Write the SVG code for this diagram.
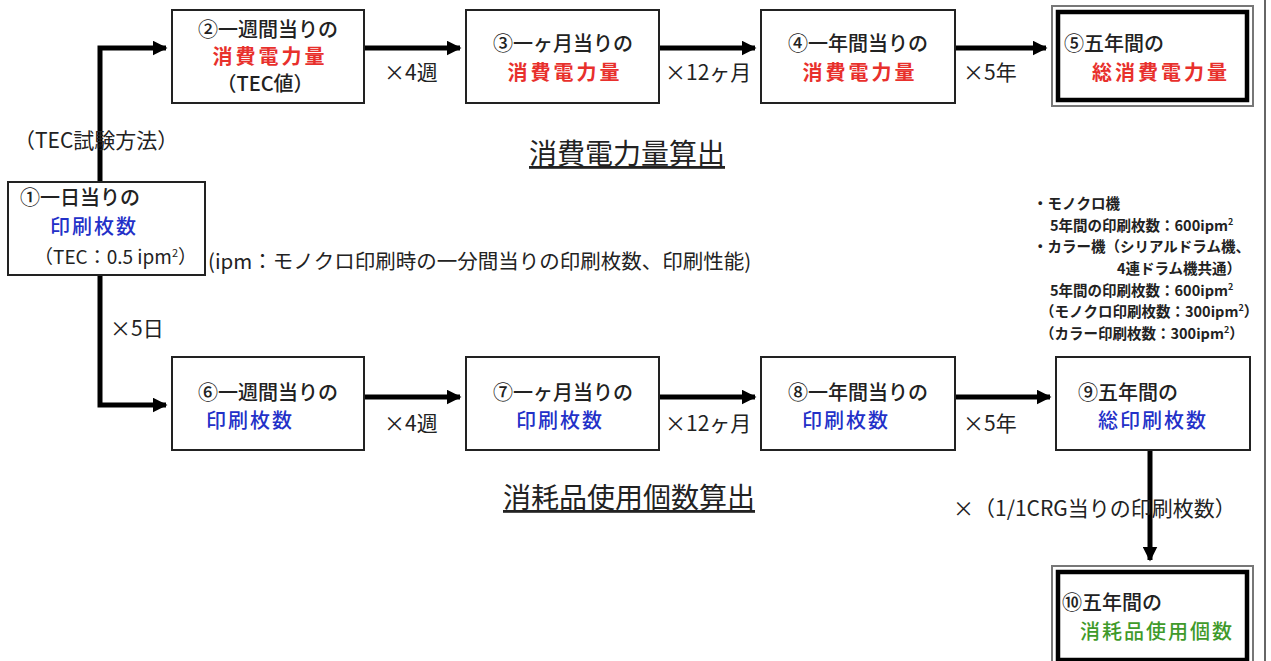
<svg xmlns="http://www.w3.org/2000/svg" width="1271" height="661" viewBox="0 0 1271 661">
<defs>
<marker id="ah" viewBox="0 0 10 10" refX="9" refY="5" markerWidth="3" markerHeight="3" orient="auto" markerUnits="strokeWidth">
<path d="M0,0 L10,5 L0,10 z" fill="#000"/>
</marker>
<style>
text{font-family:"Noto Sans CJK JP","Noto Sans",sans-serif;fill:#222}
.t{font-size:20px;font-weight:500}
.red{fill:#e8302c;font-weight:700;letter-spacing:3px}
.blue{fill:#2330c8;font-weight:500;letter-spacing:2px}
.green{fill:#3f9a2a;font-weight:500;letter-spacing:2px}
.box{fill:#fff;stroke:#222;stroke-width:2}
.outer{fill:#fff;stroke:#777;stroke-width:2}
.inner{fill:none;stroke:#000;stroke-width:4.5}
.lbl{font-size:21px}
.note{font-size:14.5px;font-weight:700}
.conn{fill:none;stroke:#000;stroke-width:5}
.sup{font-size:9px}
</style>
</defs>
<rect width="1271" height="661" fill="#fff"/>
<line x1="1265" y1="0" x2="1265" y2="661" stroke="#666" stroke-width="2"/>

<g id="connectors">
<path class="conn" d="M100,182 V48 H166" marker-end="url(#ah)"/>
<path class="conn" d="M100,275 V405 H166" marker-end="url(#ah)"/>
<path class="conn" d="M364,48 H460" marker-end="url(#ah)"/>
<path class="conn" d="M659,48 H755" marker-end="url(#ah)"/>
<path class="conn" d="M955,48 H1046" marker-end="url(#ah)"/>
<path class="conn" d="M364,397 H460" marker-end="url(#ah)"/>
<path class="conn" d="M659,397 H755" marker-end="url(#ah)"/>
<path class="conn" d="M955,397 H1050" marker-end="url(#ah)"/>
<path class="conn" d="M1150,450 V560" marker-end="url(#ah)"/>
</g>

<g id="labels">
<text class="lbl" x="14" y="148">（TEC試験方法）</text>
<text class="lbl" x="384" y="80">×4週</text>
<text class="lbl" x="665" y="80">×12ヶ月</text>
<text class="lbl" x="963" y="80">×5年</text>
<text class="lbl" x="384" y="431">×4週</text>
<text class="lbl" x="665" y="431">×12ヶ月</text>
<text class="lbl" x="963" y="431">×5年</text>
<text class="lbl" x="110" y="336">×5日</text>
<text class="lbl" x="953" y="516">×（1/1CRG当りの印刷枚数）</text>
<text x="208" y="269" font-size="20.5">(ipm：モノクロ印刷時の一分間当りの印刷枚数、印刷性能)</text>
<text x="529" y="164" font-size="28" text-decoration="underline">消費電力量算出</text>
<text x="503" y="508" font-size="28" text-decoration="underline">消耗品使用個数算出</text>
</g>

<g id="notes">
<text class="note" x="1033" y="209">・モノクロ機</text>
<text class="note" x="1050" y="231">5年間の印刷枚数：600ipm<tspan class="sup" dy="-6">2</tspan></text>
<text class="note" x="1033" y="252">・カラー機（シリアルドラム機、</text>
<text class="note" x="1117" y="274">4連ドラム機共通）</text>
<text class="note" x="1050" y="296">5年間の印刷枚数：600ipm<tspan class="sup" dy="-6">2</tspan></text>
<text class="note" x="1040" y="317">（モノクロ印刷枚数：300ipm<tspan class="sup" dy="-6">2</tspan><tspan dy="6">）</tspan></text>
<text class="note" x="1040" y="339">（カラー印刷枚数：300ipm<tspan class="sup" dy="-6">2</tspan><tspan dy="6">）</tspan></text>
</g>

<g id="node1">
<rect class="box" x="8" y="182" width="197" height="93"/>
<text class="t" x="20" y="205">①一日当りの</text>
<text class="t blue" x="50" y="234">印刷枚数</text>
<text x="34" y="264" font-size="19">（TEC：0.5 ipm<tspan font-size="11" dy="-7">2</tspan><tspan dy="7">）</tspan></text>
</g>

<g id="node2">
<rect class="box" x="172" y="10" width="192" height="93"/>
<text class="t" x="268" y="37" text-anchor="middle">②一週間当りの</text>
<text class="t red" x="270" y="64" text-anchor="middle">消費電力量</text>
<text class="t" x="265" y="91" text-anchor="middle">（TEC値）</text>
</g>

<g id="node3">
<rect class="box" x="466" y="10" width="193" height="93"/>
<text class="t" x="563" y="51" text-anchor="middle">③一ヶ月当りの</text>
<text class="t red" x="565" y="80" text-anchor="middle">消費電力量</text>
</g>

<g id="node4">
<rect class="box" x="761" y="10" width="194" height="93"/>
<text class="t" x="858" y="51" text-anchor="middle">④一年間当りの</text>
<text class="t red" x="860" y="80" text-anchor="middle">消費電力量</text>
</g>

<g id="node5">
<rect class="outer" x="1052" y="6" width="201" height="100"/>
<rect class="inner" x="1058" y="12" width="189" height="88"/>
<text class="t" x="1064" y="51">⑤五年間の</text>
<text class="t red" x="1092" y="80">総消費電力量</text>
</g>

<g id="node6">
<rect class="box" x="172" y="357" width="192" height="93"/>
<text class="t" x="268" y="400" text-anchor="middle">⑥一週間当りの</text>
<text class="t blue" x="250" y="428" text-anchor="middle">印刷枚数</text>
</g>

<g id="node7">
<rect class="box" x="466" y="357" width="193" height="93"/>
<text class="t" x="563" y="400" text-anchor="middle">⑦一ヶ月当りの</text>
<text class="t blue" x="560" y="428" text-anchor="middle">印刷枚数</text>
</g>

<g id="node8">
<rect class="box" x="761" y="357" width="194" height="93"/>
<text class="t" x="858" y="400" text-anchor="middle">⑧一年間当りの</text>
<text class="t blue" x="846" y="428" text-anchor="middle">印刷枚数</text>
</g>

<g id="node9">
<rect class="box" x="1056" y="357" width="194" height="93"/>
<text class="t" x="1078" y="400">⑨五年間の</text>
<text class="t blue" x="1098" y="428">総印刷枚数</text>
</g>

<g id="node10">
<rect class="outer" x="1052" y="566" width="201" height="100"/>
<rect class="inner" x="1058" y="572" width="189" height="88"/>
<text class="t" x="1062" y="610">⑩五年間の</text>
<text class="t green" x="1080" y="639">消耗品使用個数</text>
</g>
</svg>
